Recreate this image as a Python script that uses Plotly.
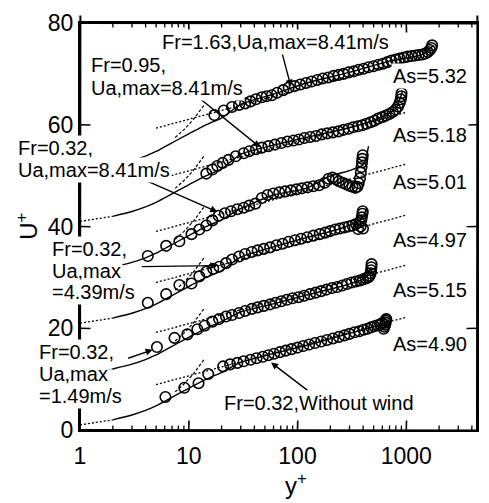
import math
import plotly.graph_objects as go

# ---------------- data ----------------
as_labels = ["As=5.32", "As=5.18", "As=5.01", "As=4.97", "As=5.15", "As=4.90"]
offsets = [0, 10, 20, 30, 40, 50]

# measured profiles (U+ already shifted by the plotted offset)
y0 = [6.1, 9.1, 12.3, 15.1, 20.7, 24, 28, 32, 37, 42, 48, 54, 61, 69, 78, 88, 100, 113, 128, 145,
      165, 187, 212, 240, 270, 300, 335, 370, 405, 440, 475, 510, 545, 575, 600, 620, 630, 640, 645, 650, 655]
u0 = [6.5, 8.3, 9.2, 11.0, 12.5, 12.9, 13.2, 13.5, 13.8, 14.1, 14.4, 14.7, 15.0, 15.3, 15.6, 15.9, 16.2, 16.5, 16.8, 17.1,
      17.4, 17.7, 18.0, 18.3, 18.6, 18.9, 19.2, 19.4, 19.7, 19.9, 20.2, 20.4, 20.6, 20.8, 21.0, 19.9, 20.3, 20.7, 21.1, 21.5, 21.8]

y1 = [5.1, 7.4, 9.7, 12, 14, 16.5, 19, 22, 25, 29, 33, 38, 43, 49, 56, 63, 71, 80, 90, 102,
      115, 130, 147, 165, 185, 208, 232, 258, 285, 315, 345, 375, 400, 425, 445, 460, 470, 475, 478, 480]
u1 = [16.3, 18.1, 18.8, 19.8, 20.5, 21.3, 21.8, 22.3, 22.6, 23.0, 23.4, 23.8, 24.1, 24.4, 24.7, 25.0, 25.3, 25.6, 25.9, 26.1,
      26.4, 26.7, 27.0, 27.3, 27.6, 27.9, 28.1, 28.4, 28.7, 29.0, 29.2, 29.4, 29.6, 29.8, 30.0, 30.3, 30.8, 31.4, 32.0, 32.6]

y2 = [4.2, 6.2, 8.2, 10.6, 12.5, 14.5, 16.8, 19.1, 22, 25, 29, 33, 38, 43, 49, 56, 64, 73, 83, 95,
      108, 123, 140, 160, 180, 200, 222, 245, 270, 295, 320, 345, 360, 370, 380, 385, 390, 395, 398, 400]
u2 = [25.0, 26.7, 28.5, 28.8, 30.2, 31.1, 31.7, 32.1, 32.8, 33.5, 34.1, 34.6, 35.0, 35.3, 35.6, 35.9, 36.3, 36.6, 37.0, 37.3,
      37.6, 37.9, 38.2, 38.5, 38.8, 39.1, 39.4, 39.6, 39.8, 40.0, 40.2, 40.5, 39.5, 40.8, 40.0, 41.2, 41.8, 42.5, 43.0, 39.6]

y3 = [4.2, 6.2, 8.2, 10.6, 12.5, 14.5, 16.5, 18.8, 21.5, 24.5, 28, 32, 36, 41, 47, 53, 60, 68, 77, 87,
      98, 110, 124, 140, 158, 178, 193, 210, 225, 240, 260, 280, 300, 320, 340, 355, 365, 375, 382, 388, 392, 395, 398]
u3 = [34.2, 36.2, 37.1, 38.5, 39.4, 40.2, 41.2, 42.1, 42.6, 43.0, 43.4, 43.7, 44.1, 44.5, 45.6, 46.2, 46.5, 46.7, 46.9, 47.1,
      47.3, 47.5, 47.7, 47.9, 48.1, 48.6, 49.4, 49.6, 49.3, 48.9, 48.6, 48.3, 48.0, 47.8, 47.6, 47.8, 48.5, 49.5, 50.6, 51.7, 52.6, 53.3, 54.0]

y4 = [14.5, 16.5, 18.3, 20.5, 23.2, 27, 32, 36, 41.5, 47, 54, 62, 71, 81, 92, 103, 116, 131, 148, 167,
      188, 212, 238, 265, 295, 325, 360, 395, 430, 470, 510, 550, 600, 650, 700, 750, 800, 840, 870, 890, 900, 905]
u4 = [50.4, 51.2, 51.9, 52.5, 53.1, 53.8, 54.4, 54.8, 55.2, 55.5, 55.8, 56.1, 56.4, 56.7, 56.9, 57.1, 57.4, 57.6, 57.8, 58.1,
      58.3, 58.5, 58.7, 59.0, 59.2, 59.5, 59.7, 59.9, 60.2, 60.5, 60.8, 61.2, 61.5, 61.8, 62.1, 62.5, 63.0, 63.6, 64.3, 65.0, 65.6, 66.2]

y5 = [17.2, 21, 25, 29, 33, 37, 41.5, 47, 52, 58, 65, 74, 83, 94, 106, 120, 135, 152, 171, 192,
      215, 239, 265, 295, 330, 365, 405, 450, 500, 555, 610, 670, 730, 800, 870, 950, 1030, 1120, 1210, 1300,
      1400, 1500, 1580, 1650, 1700, 1730]
u5 = [61.9, 62.8, 63.5, 63.9, 64.2, 64.6, 65.0, 65.4, 65.6, 65.8, 66.3, 66.8, 67.3, 67.6, 67.9, 68.2, 68.5, 68.8, 69.1, 69.3,
      69.6, 69.8, 70.0, 70.3, 70.5, 70.8, 71.0, 71.3, 71.5, 71.8, 72.0, 72.3, 72.6, 72.8, 73.0, 73.2, 73.4, 73.5, 73.6, 73.7,
      73.8, 74.0, 74.3, 74.7, 75.1, 75.6]

profiles_y = [y0, y1, y2, y3, y4, y5]
profiles_u = [u0, u1, u2, u3, u4, u5]

# near-wall part of the solid fitted curve (unshifted)
wall_y = [2, 3, 4, 5, 6, 8, 10, 13, 16, 20]
wall_u = [2.0, 2.95, 3.85, 4.75, 5.65, 7.1, 8.2, 9.5, 10.4, 11.3]

# outer part of the solid fitted curve for each profile (shifted)
fit_y = [
    [30, 60, 120, 250, 450, 650],
    [30, 60, 120, 250, 400, 480],
    [30, 60, 120, 250, 390, 430],
    [30, 60, 120, 193, 300, 405, 450],
    [30, 60, 120, 300, 550, 800, 920],
    [30, 60, 120, 300, 730, 1400, 1750],
]
fit_u = [
    [13.3, 15.0, 16.6, 18.5, 20.0, 21.0],
    [23.2, 24.8, 26.5, 28.2, 29.6, 31.0],
    [34.0, 36.0, 37.8, 39.6, 41.5, 43.6],
    [43.5, 46.2, 47.5, 49.8, 51.0, 52.2, 55.8],
    [54.2, 56.0, 57.5, 59.4, 61.2, 63.2, 66.5],
    [64.0, 66.0, 68.2, 70.3, 72.6, 73.8, 75.5],
]

# viscous sublayer line U+ = y+ (unshifted), two drawn pieces
visc_in_y = [1, 1.5, 2]
visc_in_u = [1, 1.5, 2]
visc_out_y = [7.5, 9, 11, 12.5, 14]
visc_out_u = [7.5, 9, 11, 12.5, 14]

# log law U+ = 2.5 ln y+ + As (shifted), end points
log_y = [5, 1000]
log_u = [[8.92, 22.17], [19.17, 32.42], [28.99, 42.24], [39.03, 52.28], [49.20, 62.45], [59.34, 72.59]]

x_tickvals = [1, 10, 100, 1000]
x_ticktext = ["1", "10", "100", "1000"]
x_minor = [2, 3, 4, 5, 6, 7, 8, 9, 20, 30, 40, 50, 60, 70, 80, 90,
           200, 300, 400, 500, 600, 700, 800, 900, 2000, 3000, 4000]
y_tickvals = [0, 20, 40, 60, 80]

# ---------------- figure ----------------
FONT = "Liberation Sans, Arial, Helvetica, sans-serif"
L, R, T, B = 80, 479, 14, 430
W, H = R - L, B - T
PX_DEC = 109.3            # pixels per decade on x
PX_U = H / 80.0           # pixels per U+ unit
XMAX = W / PX_DEC
YMAX = 80

fig = go.Figure()
blk = "black"

for i, off in enumerate(offsets):
    fig.add_trace(go.Scatter(x=log_y, y=log_u[i], mode="lines",
                             line=dict(color=blk, width=1.3, dash="2px,2px"), showlegend=False))
    fig.add_trace(go.Scatter(x=visc_in_y, y=[v + off for v in visc_in_u], mode="lines",
                             line=dict(color=blk, width=1.3, dash="2px,2px"), showlegend=False))
    fig.add_trace(go.Scatter(x=visc_out_y, y=[v + off for v in visc_out_u], mode="lines",
                             line=dict(color=blk, width=1.2, dash="3px,2px"), showlegend=False))
    fig.add_trace(go.Scatter(x=wall_y + fit_y[i], y=[w + off for w in wall_u] + fit_u[i], mode="lines",
                             line=dict(color=blk, width=1.4, shape="spline", smoothing=0.6),
                             showlegend=False))

for i in range(6):
    fig.add_trace(go.Scatter(x=profiles_y[i], y=profiles_u[i], mode="markers",
                             marker=dict(symbol="circle-open", size=10.5, color=blk,
                                         line=dict(width=1.6, color=blk)),
                             showlegend=False))


# ---- frame and tick marks, drawn as head-less annotation arrows (tiny tilt) ----
def seg(x, y, ax, ay, xref, yref, w):
    fig.add_annotation(text="", x=x, y=y, xref=xref, yref=yref, ax=ax, ay=ay,
                       axref="pixel", ayref="pixel", showarrow=True, arrowhead=0,
                       arrowwidth=w, arrowcolor=blk, standoff=0, startstandoff=0)


seg(0, 0, W, 0.4, "paper", "paper", 2)
seg(0, 1, W, 0.4, "paper", "paper", 2)
seg(0, 0, 0.4, -H, "paper", "paper", 2)
seg(1, 0, 0.4, -H, "paper", "paper", 2)
for v in y_tickvals[1:-1]:
    seg(0, v, 12, 0.3, "paper", "y", 1.6)
    seg(1, v, -12, 0.3, "paper", "y", 1.6)
for t in x_tickvals[1:]:
    seg(math.log10(t), 0, 0.3, -11, "x", "paper", 1.6)
    seg(math.log10(t), 1, 0.3, 11, "x", "paper", 1.6)
for t in x_minor:
    seg(math.log10(t), 0, 0.3, -6, "x", "paper", 1.3)
    seg(math.log10(t), 1, 0.3, 6, "x", "paper", 1.3)


def px2paper(px, py):
    return (px - L) / W, (B - py) / H


def txt(s, px, py, size=20):
    x, y = px2paper(px, py)
    fig.add_annotation(text=s, x=x, y=y, xref="paper", yref="paper", xanchor="left", yanchor="middle",
                       showarrow=False, bgcolor="white", borderpad=1,
                       font=dict(family=FONT, size=size, color=blk))


def arrow(tail, head):
    hx = (head[0] - L) / PX_DEC
    hy = (B - head[1]) / PX_U
    fig.add_annotation(text="", x=hx, y=hy, xref="x", yref="y", ax=tail[0] - head[0], ay=tail[1] - head[1],
                       axref="pixel", ayref="pixel", showarrow=True, arrowhead=2, arrowsize=1,
                       arrowwidth=1.4, arrowcolor=blk, standoff=0)


arrow((283, 45), (292, 79))
arrow((198, 90), (261, 141))
arrow((147, 176), (218, 207))
arrow((141, 263), (218, 262))
arrow((127, 357), (153, 348))
arrow((310, 390), (272, 361))

txt("Fr=1.63,Ua,max=8.41m/s", 160, 33)
txt("Fr=0.95,", 89, 57)
txt("Ua,max=8.41m/s", 89, 80)
txt("Fr=0.32,", 16, 142)
txt("Ua,max=8.41m/s", 16, 164)
txt("Fr=0.32,", 50, 245)
txt("Ua,max", 50, 267)
txt("=4.39m/s", 50, 289)
txt("Fr=0.32,", 37, 350)
txt("Ua,max", 37, 373)
txt("=1.49m/s", 37, 395)
txt("Fr=0.32,Without wind", 223, 402)

for lab, py in zip(as_labels, [68, 128, 177, 236, 287, 342]):
    txt(lab, 393, py)

# axis titles
fig.add_annotation(text="y<sup>+</sup>", x=(297 - L) / W, y=(B - 485) / H,
                   xref="paper", yref="paper", xanchor="center", yanchor="middle", showarrow=False,
                   font=dict(family=FONT, size=24, color=blk))
fig.add_annotation(text="U<sup>+</sup>", x=(26 - L) / W, y=(B - 222) / H,
                   xref="paper", yref="paper", xanchor="center", yanchor="middle", showarrow=False,
                   textangle=-90, font=dict(family=FONT, size=24, color=blk))

fig.update_layout(
    width=489, height=503, margin=dict(l=L, r=489 - R, t=T, b=503 - B),
    paper_bgcolor="white", plot_bgcolor="white", showlegend=False,
    xaxis=dict(type="log", range=[0, XMAX], tickmode="array", tickvals=x_tickvals, ticktext=x_ticktext,
               showline=True, linewidth=2, linecolor=blk, mirror=True, ticks="",
               ticklabelstandoff=4, showgrid=False, zeroline=False,
               tickfont=dict(family=FONT, size=23, color=blk)),
    yaxis=dict(range=[0, YMAX], tickmode="array", tickvals=y_tickvals,
               showline=True, linewidth=2, linecolor=blk, mirror=True, ticks="",
               ticklabelstandoff=0, showgrid=False, zeroline=False,
               tickfont=dict(family=FONT, size=23, color=blk)),
)

fig.write_html("out.html")
